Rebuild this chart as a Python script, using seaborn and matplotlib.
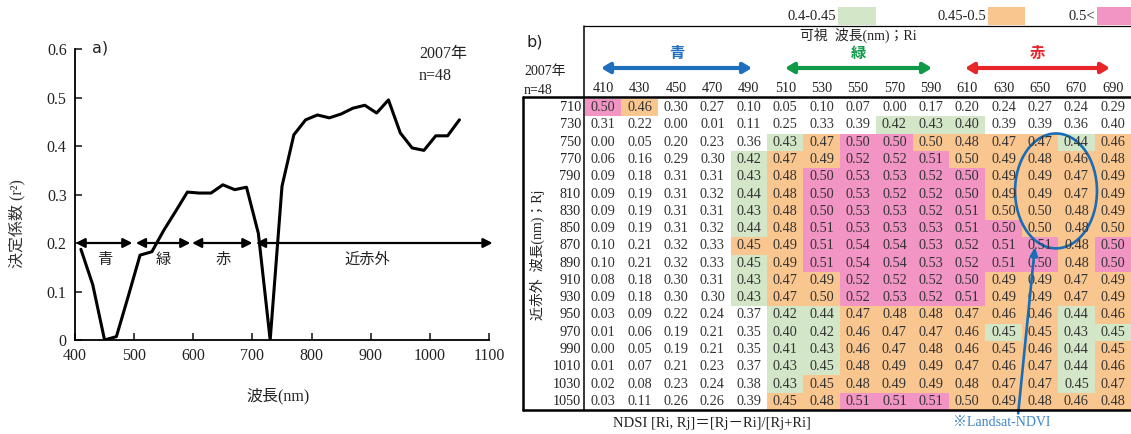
import matplotlib
matplotlib.use("Agg")
import matplotlib.pyplot as plt
from matplotlib.colors import ListedColormap, BoundaryNorm
from matplotlib.patches import Ellipse, Rectangle
import numpy as np
import pandas as pd
import seaborn as sns

# ---------------- (a) single-band coefficient of determination ----------------
band_nm = [410, 430, 450, 470, 490, 510, 530, 550, 570, 590, 610, 630, 650, 670, 690,
           710, 730, 750, 770, 790, 810, 830, 850, 870, 890, 910, 930, 950, 970, 990,
           1010, 1030, 1050]
band_r2 = [0.187, 0.114, 0.000, 0.007, 0.090, 0.175, 0.182, 0.226, 0.265, 0.305, 0.303,
           0.303, 0.320, 0.310, 0.315, 0.220, 0.000, 0.317, 0.423, 0.454, 0.464, 0.458,
           0.466, 0.478, 0.484, 0.468, 0.495, 0.427, 0.396, 0.391, 0.421, 0.421, 0.454]

region_names = ["青", "緑", "赤", "近赤外"]
region_spans = [(401, 497), (503, 595), (598, 700), (706, 1106)]
region_label_x = [450, 550, 650, 895]

# ---------------- (b) NDSI[Ri, Rj] coefficient of determination ----------------
vis_nm = [410, 430, 450, 470, 490, 510, 530, 550, 570, 590, 610, 630, 650, 670, 690]
nir_nm = [710, 730, 750, 770, 790, 810, 830, 850, 870, 890, 910, 930, 950, 970, 990,
          1010, 1030, 1050]
ndsi_r2 = [
    [0.50, 0.46, 0.30, 0.27, 0.10, 0.05, 0.10, 0.07, 0.00, 0.17, 0.20, 0.24, 0.27, 0.24, 0.29],
    [0.31, 0.22, 0.00, 0.01, 0.11, 0.25, 0.33, 0.39, 0.42, 0.43, 0.40, 0.39, 0.39, 0.36, 0.397],
    [0.00, 0.05, 0.20, 0.23, 0.36, 0.43, 0.47, 0.50, 0.50, 0.498, 0.48, 0.47, 0.47, 0.44, 0.46],
    [0.06, 0.16, 0.29, 0.30, 0.42, 0.47, 0.49, 0.52, 0.52, 0.51, 0.498, 0.49, 0.48, 0.46, 0.48],
    [0.09, 0.18, 0.31, 0.31, 0.43, 0.48, 0.50, 0.53, 0.53, 0.52, 0.50, 0.49, 0.49, 0.47, 0.49],
    [0.09, 0.19, 0.31, 0.32, 0.44, 0.48, 0.50, 0.53, 0.52, 0.52, 0.50, 0.49, 0.49, 0.47, 0.49],
    [0.09, 0.19, 0.31, 0.31, 0.43, 0.48, 0.50, 0.53, 0.53, 0.52, 0.51, 0.498, 0.498, 0.48, 0.49],
    [0.09, 0.19, 0.31, 0.32, 0.44, 0.48, 0.51, 0.53, 0.53, 0.53, 0.51, 0.50, 0.498, 0.48, 0.498],
    [0.10, 0.21, 0.32, 0.33, 0.45, 0.49, 0.51, 0.54, 0.54, 0.53, 0.52, 0.51, 0.51, 0.48, 0.50],
    [0.10, 0.21, 0.32, 0.33, 0.448, 0.49, 0.51, 0.54, 0.54, 0.53, 0.52, 0.51, 0.50, 0.48, 0.50],
    [0.08, 0.18, 0.30, 0.31, 0.43, 0.47, 0.49, 0.52, 0.52, 0.52, 0.50, 0.49, 0.49, 0.47, 0.49],
    [0.09, 0.18, 0.30, 0.30, 0.43, 0.47, 0.498, 0.52, 0.53, 0.52, 0.51, 0.49, 0.49, 0.47, 0.49],
    [0.03, 0.09, 0.22, 0.24, 0.37, 0.42, 0.44, 0.47, 0.48, 0.48, 0.47, 0.46, 0.46, 0.44, 0.46],
    [0.01, 0.06, 0.19, 0.21, 0.35, 0.40, 0.42, 0.46, 0.47, 0.47, 0.46, 0.448, 0.45, 0.43, 0.448],
    [0.00, 0.05, 0.19, 0.21, 0.35, 0.41, 0.43, 0.46, 0.47, 0.48, 0.46, 0.45, 0.46, 0.44, 0.45],
    [0.01, 0.07, 0.21, 0.23, 0.37, 0.43, 0.448, 0.48, 0.49, 0.49, 0.47, 0.46, 0.47, 0.44, 0.46],
    [0.02, 0.08, 0.23, 0.24, 0.38, 0.43, 0.45, 0.48, 0.49, 0.49, 0.48, 0.47, 0.47, 0.448, 0.47],
    [0.03, 0.11, 0.26, 0.26, 0.39, 0.45, 0.48, 0.51, 0.51, 0.51, 0.498, 0.49, 0.48, 0.46, 0.48],
]

class_edges = [0.0, 0.40, 0.45, 0.50, 1.0]
class_colors = ["#ffffff", "#d3e6c7", "#f9c68f", "#f294c4"]
legend_labels = ["0.4-0.45", "0.45-0.5", "0.5<"]

# ---------------- style ----------------
sns.set_style("ticks")
plt.rcParams["font.family"] = ["Liberation Serif", "Noto Sans CJK JP"]
plt.rcParams["axes.unicode_minus"] = False

W, H = 1131, 434
fig = plt.figure(figsize=(W / 100, H / 100), dpi=100)
fig.patch.set_facecolor("white")


def box(left, top, right, bottom):
    return [left / W, 1 - bottom / H, (right - left) / W, (bottom - top) / H]


ink = "#222222"

# ---------------- panel (a) ----------------
ax1 = fig.add_axes(box(75, 49, 489, 340))
line_df = pd.DataFrame({"wl": band_nm, "r2": band_r2})
sns.lineplot(data=line_df, x="wl", y="r2", ax=ax1, color="black", linewidth=2.2)
ax1.set_xlim(400, 1100)
ax1.set_ylim(0, 0.6)
ax1.set_xticks(range(400, 1101, 100))
ax1.set_yticks([0, 0.1, 0.2, 0.3, 0.4, 0.5, 0.6])
ax1.set_yticklabels(["0", "0.1", "0.2", "0.3", "0.4", "0.5", "0.6"])
ax1.tick_params(direction="in", length=5, width=1.2, labelsize=11.5, colors=ink, pad=6)
for s in ["top", "right"]:
    ax1.spines[s].set_visible(False)
for s in ["left", "bottom"]:
    ax1.spines[s].set_linewidth(1.3)
    ax1.spines[s].set_color("black")
ax1.set_xlabel("波長(nm)", fontsize=11.5, color=ink)
ax1.xaxis.set_label_coords(0.49, -0.165)
ax1.set_ylabel("決定係数 (r²)", fontsize=11.5, color="#333333")
ax1.yaxis.set_label_coords(-0.12, 0.40)

for (x0, x1), name, lx in zip(region_spans, region_names, region_label_x):
    ax1.annotate("", xy=(x1, 0.2), xytext=(x0, 0.2), annotation_clip=False,
                 arrowprops=dict(arrowstyle="<|-|>,head_length=0.55,head_width=0.28",
                                 color="black", lw=1.6, shrinkA=0, shrinkB=0))
    ax1.text(lx, 0.165, name, ha="center", va="center", fontsize=11, color=ink)

# ---------------- panel (b) ----------------
ax2 = fig.add_axes(box(585, 99, 1131, 410))
table = pd.DataFrame(ndsi_r2, index=nir_nm, columns=vis_nm)
cmap = ListedColormap(class_colors)
norm = BoundaryNorm(class_edges, cmap.N)
sns.heatmap(table, ax=ax2, cmap=cmap, norm=norm, cbar=False, annot=True, fmt=".2f",
            annot_kws={"fontsize": 10.3, "color": "#333333", "family": "Liberation Serif"},
            xticklabels=vis_nm, yticklabels=nir_nm)
ax2.xaxis.tick_top()
ax2.tick_params(axis="x", length=0, pad=3, labelsize=10.3, colors=ink, rotation=0)
ax2.tick_params(axis="y", length=0, pad=3, labelsize=10.3, colors=ink, rotation=0)
ax2.set_xlabel("")
ax2.set_ylabel("")

# marked pair used by Landsat NDVI
ax2.add_patch(Ellipse((12.94, 5.32), 2.25, 6.65, fill=False, edgecolor="#1a6db5",
                      lw=1.9, clip_on=False))
ax2.annotate("", xy=(12.36, 8.56), xytext=(11.9, 18.2), annotation_clip=False,
             arrowprops=dict(arrowstyle="-|>,head_length=0.5,head_width=0.22",
                             color="#1a6db5", lw=1.9, shrinkA=0, shrinkB=0))

# ---------------- overlay for frames, header and captions ----------------
ov = fig.add_axes([0, 0, 1, 1])
ov.set_xlim(0, W)
ov.set_ylim(H, 0)
ov.axis("off")
ov.patch.set_alpha(0)

ov.plot([523, W], [97, 97], color="black", lw=1.8)
ov.plot([523, W], [410, 410], color="black", lw=1.8)
ov.plot([523, 523], [97, 410], color="black", lw=1.8)
ov.plot([584, 584], [26, 410], color="black", lw=1.1)
ov.plot([584, W], [26, 26], color="black", lw=0.9)

# legend of value classes
legend_rects = [(838, 876), (988, 1025), (1097, 1131)]
for (rx0, rx1), col, lab in zip(legend_rects, class_colors[1:], legend_labels):
    ov.add_patch(Rectangle((rx0, 7), rx1 - rx0, 18, color=col, lw=0))
    ov.text(rx0 - 2, 17, lab, ha="right", va="center", fontsize=10.5, color=ink)

ov.text(858, 35, "可視  波長(nm)；Ri", ha="center", va="center", fontsize=10, color=ink)

header_arrows = [((601, 752), "#1f6fbf", "青"), ((785, 932), "#0f9a48", "緑"),
                 ((965, 1110), "#e8262a", "赤")]
for (hx0, hx1), col, name in header_arrows:
    ov.annotate("", xy=(hx1, 68), xytext=(hx0, 68),
                arrowprops=dict(arrowstyle="<|-|>,head_length=0.5,head_width=0.3",
                                color=col, lw=3, shrinkA=0, shrinkB=0))
    ov.text((hx0 + hx1) / 2, 53, name, ha="center", va="center", fontsize=11,
            color=col, fontweight="bold", family="Noto Sans CJK JP")

ov.text(527, 42, "b)", ha="left", va="center", fontsize=11.5, color=ink,
        family="DejaVu Sans")
ov.text(524, 72, "2007年", ha="left", va="center", fontsize=10, color=ink)
ov.text(524, 90, "n=48", ha="left", va="center", fontsize=10, color=ink)
ov.text(537, 255, "近赤外  波長(nm)；Rj", ha="center", va="center", rotation=90,
        fontsize=10, color=ink)
ov.text(712, 423, "NDSI [Ri, Rj]＝[Rj－Ri]/[Rj+Ri]", ha="center", va="center",
        fontsize=10.5, color=ink)
ov.text(1002, 423, "※Landsat-NDVI", ha="center", va="center", fontsize=10,
        color="#3d85c6")

ov.text(92, 48, "a)", ha="left", va="center", fontsize=11.5, color=ink,
        family="DejaVu Sans")
ov.text(419, 54, "2007年", ha="left", va="center", fontsize=11.5, color=ink)
ov.text(419, 76, "n=48", ha="left", va="center", fontsize=11.5, color=ink)

fig.savefig("out.png", dpi=100)
